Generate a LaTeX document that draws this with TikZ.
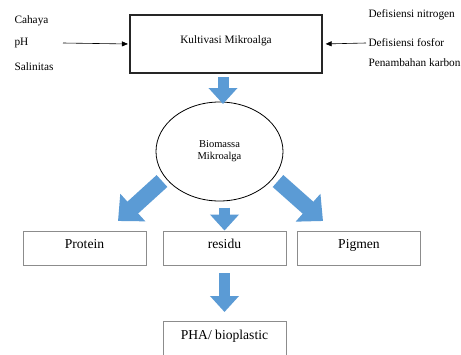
\documentclass[tikz,border=0pt]{standalone}
\usepackage{fontspec}
\setmainfont{Liberation Serif}
\usetikzlibrary{arrows.meta,shapes.geometric}
\definecolor{arrowblue}{HTML}{5B9BD5}
\definecolor{boxgray}{HTML}{8C8C8C}
\tikzset{
  smalltext/.style={font=\fontsize{11.3}{13}\selectfont},
  resultbox/.style={draw=boxgray, line width=0.9pt, minimum width=123pt, minimum height=34pt,
    inner sep=0pt, text depth=8pt, font=\fontsize{13.6}{15}\selectfont},
  blockarrow/.style={arrowblue, line width=11pt, -{Triangle[width=28pt,length=16pt]}},
  wideblockarrow/.style={arrowblue, line width=16pt, -{Triangle[width=36pt,length=20pt]}},
  thinarrow/.style={black, line width=0.6pt, -{Triangle[width=5pt,length=6pt]}}
}
\begin{document}
\begin{tikzpicture}[x=1pt,y=-1pt]
    \clip (0,0) rectangle (461,354);
    \fill[white] (0,0) rectangle (461,354);

    % cultivation box and its conditions
    \node[draw=black!85, line width=1.2pt, minimum width=192pt, minimum height=58pt, inner sep=0pt,
      text depth=8pt, smalltext] (kult) at (226,44) {Kultivasi Mikroalga};

    \node[smalltext, anchor=west] (cahaya) at (11,21) {Cahaya};
    \node[smalltext, anchor=west] (ph) at (11,43) {pH};
    \node[smalltext, anchor=west] (salin) at (11,67) {Salinitas};
    \coordinate (lstart) at (63,43);
    \draw[thinarrow, shorten >=1.5pt] (lstart) -- (kult.west);

    \node[smalltext, anchor=west] (nitro) at (365,15) {Defisiensi nitrogen};
    \node[smalltext, anchor=west] (fosfor) at (365,43) {Defisiensi fosfor};
    \node[smalltext, anchor=west] (karbon) at (365,63) {Penambahan karbon};
    \coordinate (rstart) at (366,43);
    \draw[thinarrow, shorten >=3pt] (rstart) -- (kult.east);

    % biomass
    \node[draw, ellipse, line width=0.8pt, minimum width=127pt, minimum height=99pt, inner sep=0pt,
      align=center, font=\fontsize{10.5}{12}\selectfont] (bio) at (219.5,151.5) {Biomassa\\Mikroalga};
    \draw[blockarrow] (223,77) -- (223,104);

    % products
    \node[resultbox] (protein) at (84.5,248) {Protein};
    \node[resultbox] (residu) at (224.5,248) {residu};
    \node[resultbox] (pigmen) at (359,248) {Pigmen};
    \node[resultbox, anchor=north] (pha) at (224.5,321) {PHA/ bioplastic};

    \coordinate (ltail) at (162,181);
    \coordinate (ltip) at (118,221);
    \coordinate (rtail) at (278,181);
    \coordinate (rtip) at (323,221);
    \draw[wideblockarrow] (ltail) -- (ltip);
    \draw[wideblockarrow] (rtail) -- (rtip);
    \draw[blockarrow] ([yshift=23pt]residu.north) -- (residu.north);
    \draw[blockarrow, shorten >=9pt] ([yshift=48pt]pha.north) -- (pha.north);
\end{tikzpicture}
\end{document}
